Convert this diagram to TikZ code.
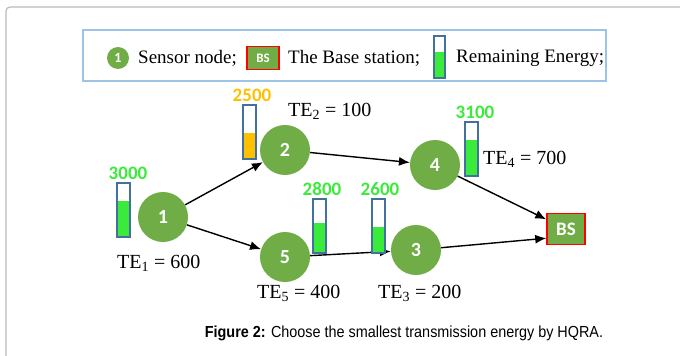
\documentclass[tikz,border=0pt]{standalone}
\usepackage{fontspec}
\setmainfont{Liberation Serif}
\newfontfamily\numfont{Carlito}
\newfontfamily\capfont{Liberation Sans}
\usepackage{tikz}
\usetikzlibrary{arrows.meta,positioning,calc,shapes}
\usepackage{xcolor}

\definecolor{nodegreen}{HTML}{70AD47}
\definecolor{battblue}{HTML}{41719C}
\definecolor{lvlgreen}{HTML}{3BEB3B}
\definecolor{lvlorange}{HTML}{FFC000}
\definecolor{legendblue}{HTML}{9DC3E6}
\definecolor{framegray}{HTML}{BBBBBB}

\begin{document}
\begin{tikzpicture}[x=1pt,y=-1pt,
  sensor/.style={circle,fill=nodegreen,minimum size=50pt,inner sep=0pt,text=white,
    font=\numfont\bfseries\fontsize{20}{20}\selectfont},
  base/.style={rectangle,draw=red,line width=1.5pt,fill=nodegreen,minimum width=38pt,
    minimum height=31pt,inner sep=0pt,text=white,font=\numfont\bfseries\fontsize{19}{19}\selectfont},
  link/.style={-{Latex[length=11pt,width=9pt]},line width=1.4pt},
  te/.style={anchor=west,inner sep=0pt,font=\fontsize{20}{20}\selectfont},
  legtext/.style={anchor=west,inner sep=0pt,font=\fontsize{19}{19}\selectfont}]

  \useasboundingbox (0,0) rectangle (680,356);
  \clip (0,0) rectangle (680,356);
  \fill[white] (0,0) rectangle (680,356);
  % outer frame
  \draw[framegray,line width=1.2pt,rounded corners=4pt] (6,7) rectangle (720,400);

  % legend
  \draw[legendblue,line width=1.5pt] (83,30) rectangle (606,81);
  \node[sensor,minimum size=22pt,font=\numfont\bfseries\fontsize{14}{14}\selectfont] (lg1) at (118,58) {1};
  \node[legtext] (lgsensor) at (138,58) {Sensor node;};
  \node[base,minimum width=32pt,minimum height=23pt,font=\numfont\bfseries\fontsize{13}{13}\selectfont] (lgbs) at (263,58) {BS};
  \node[legtext] (lgbase) at (288,58) {The Base station;};
  \fill[lvlgreen] (434,52) rectangle (445,78);
  \draw[battblue,line width=2pt] (434,36) rectangle (445,78);
  \node[legtext] (lgenergy) at (456,58) {Remaining Energy;};

  % sensor nodes
  \node[sensor] (n1) at (163,217) {1};
  \node[sensor] (n2) at (285,150) {2};
  \node[sensor] (n5) at (285,257) {5};
  \node[sensor] (n4) at (435,165) {4};
  \node[sensor] (n3) at (416,250) {3};
  \node[base] (bs) at (566,229) {BS};

  % links
  \draw[link] (n1) -- (n2);
  \draw[link] (n1) -- (n5);
  \draw[link] (n2) -- (n4);
  \draw[link] (n5) -- (n3);
  \draw[link] (n4) -- (bs);
  \draw[link] (n3) -- (bs.205);

  % remaining energy
  \foreach \bx/\btop/\blvl/\bcol/\bval/\lx in {117/183/201/lvlgreen/3000/128,
      243/105/133/lvlorange/2500/252, 313/199/223/lvlgreen/2800/322,
      372/199/227/lvlgreen/2600/380, 465/122/140/lvlgreen/3100/475}{
    \fill[\bcol] (\bx,\blvl) rectangle (\bx+13,\btop+54);
    \draw[battblue,line width=2pt] (\bx,\btop) rectangle (\bx+13,\btop+54);
    \node[font=\numfont\bfseries\fontsize{19}{19}\selectfont,text=\bcol,inner sep=0pt]
      (e\bval) at (\lx,\btop-9.5) {\bval};
  }

  % transmission energies
  \node[te] (te1) at (117,263) {TE\textsubscript{1} = 600};
  \node[te] (te2) at (288,111) {TE\textsubscript{2} = 100};
  \node[te] (te4) at (483,159) {TE\textsubscript{4} = 700};
  \node[te] (te5) at (257,293) {TE\textsubscript{5} = 400};
  \node[te] (te3) at (378,293) {TE\textsubscript{3} = 200};

  % caption
  \node[font=\capfont\fontsize{16}{16}\selectfont,inner sep=0pt,xscale=0.9] (cap) at (404,333)
    {\textbf{Figure 2:} Choose the smallest transmission energy by HQRA.};
\end{tikzpicture}
\end{document}
